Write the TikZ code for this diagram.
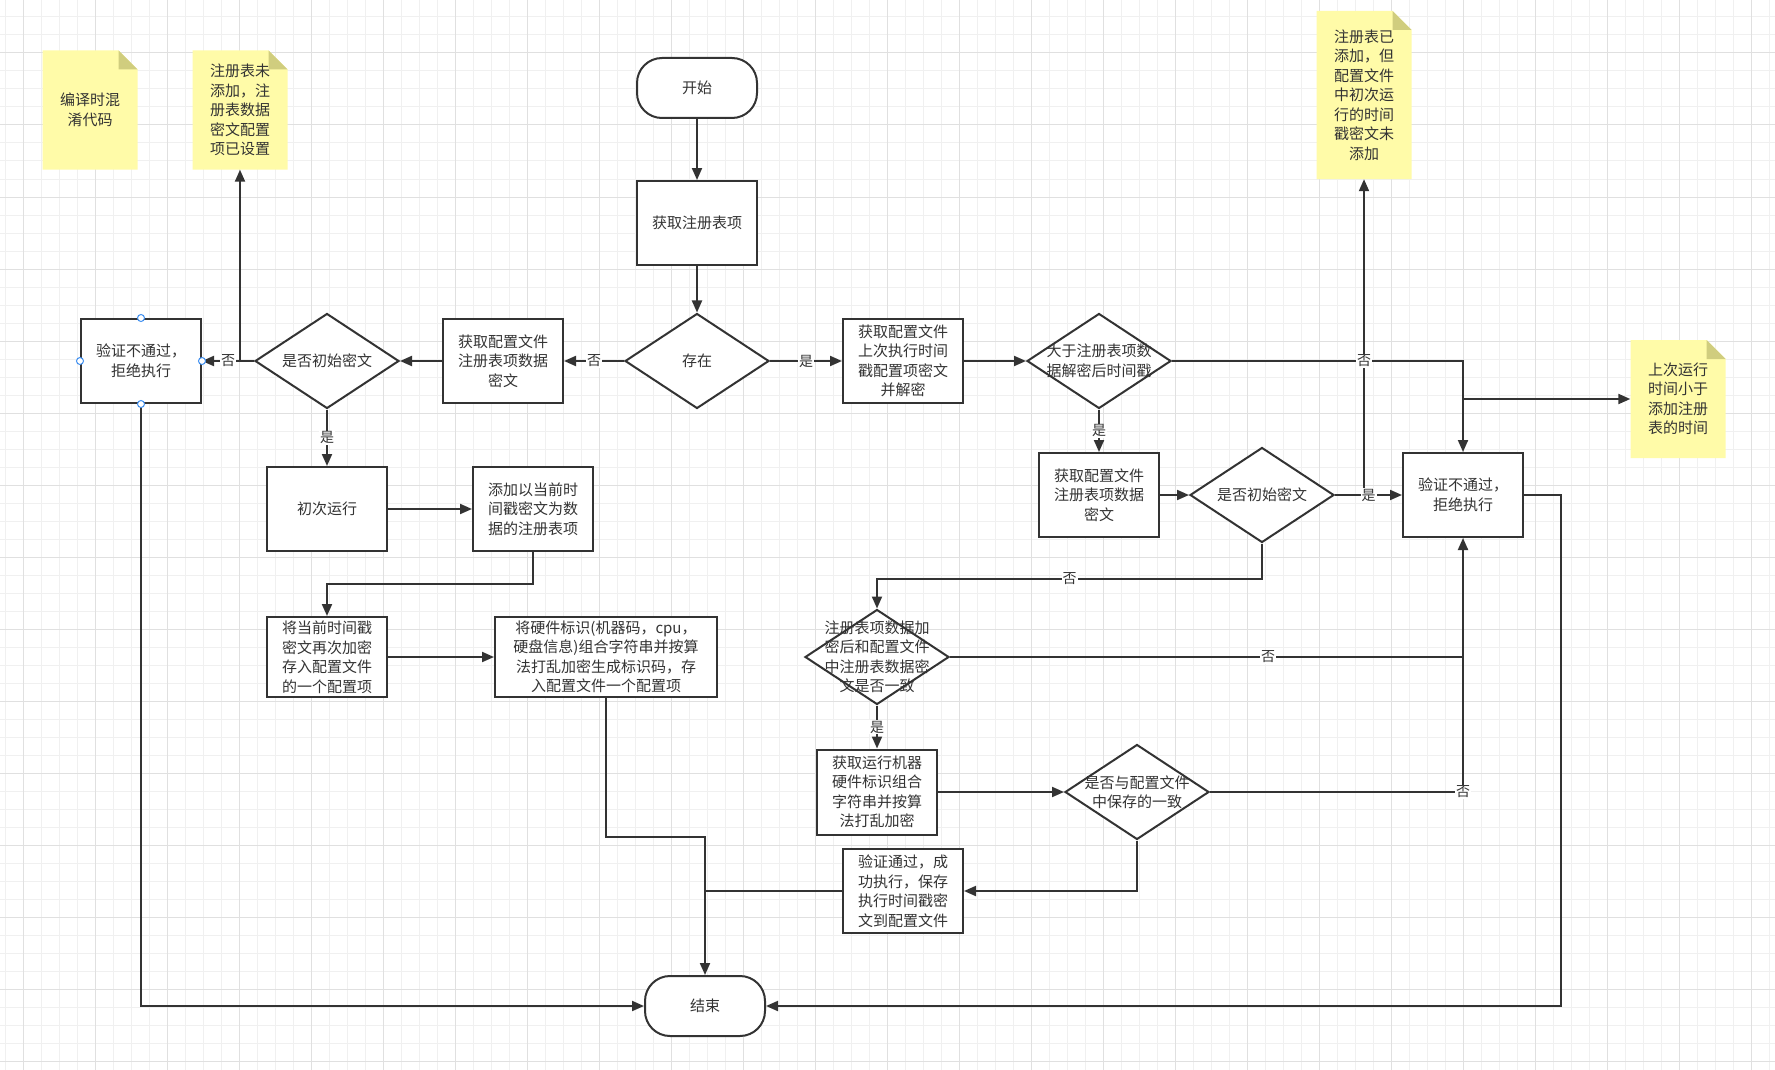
\documentclass[tikz,border=0pt]{standalone}
\usepackage{fontspec}
\setmainfont{Noto Sans CJK SC}
\usetikzlibrary{arrows.meta,positioning,shapes.geometric}
\definecolor{ink}{HTML}{333333}
\definecolor{gridlo}{HTML}{F0F0F0}
\definecolor{gridhi}{HTML}{E0E0E0}
\definecolor{notey}{HTML}{FFFBA8}
\definecolor{notefold}{HTML}{D0CD7E}
\definecolor{selblue}{HTML}{3D8EF0}
\newcommand{\txt}{\fontsize{15}{19.5}\selectfont}
\tikzset{proc/.style={rectangle,draw=ink,line width=2pt,fill=white,minimum width=120pt,
   minimum height=84pt,align=center,font=\txt,text=ink,inner sep=2pt},
  term/.style={proc,rounded corners=25pt,minimum height=60pt},
  dec/.style={diamond,draw=ink,line width=2pt,fill=white,minimum width=144pt,
   minimum height=95pt,inner sep=0pt},
  dectxt/.style={align=center,font=\txt,text=ink,inner sep=0pt},
  notetxt/.style={align=center,font=\txt,text=ink,inner sep=0pt},
  wire/.style={draw=ink,line width=2pt,-{Triangle[length=12pt,width=10pt]}},
  lab/.style={fill=white,text=ink,font=\fontsize{14}{16}\selectfont,inner sep=1pt},
  handle/.style={circle,draw=selblue,fill=white,line width=1pt,minimum size=7pt,inner sep=0pt}}
% sticky note: name, cx, cy, w, h, text
\newcommand{\sticky}[6]{%
\fill[notey] ({#2-#4/2},{#3+#5/2}) -- ({#2-#4/2},{#3-#5/2}) -- ({#2+#4/2-19},{#3-#5/2})
  -- ({#2+#4/2},{#3-#5/2+19}) -- ({#2+#4/2},{#3+#5/2}) -- cycle;
\fill[notefold] ({#2+#4/2-19},{#3-#5/2}) -- ({#2+#4/2-19},{#3-#5/2+19}) -- ({#2+#4/2},{#3-#5/2+19}) -- cycle;
\node[notetxt,minimum width=#4pt,minimum height=#5pt] (#1) at (#2,#3) {#6};
}

\begin{document}
\begin{tikzpicture}[x=1pt,y=-1pt]
\useasboundingbox (0,0) rectangle (1775,1070);
\fill[white] (0,0) rectangle (1775,1070);
% grid
\foreach \gx in {5,23,...,1775} \draw[gridlo,line width=1pt] (\gx,0) -- (\gx,1070);
\foreach \gy in {17,35,...,1070} \draw[gridlo,line width=1pt] (0,\gy) -- (1775,\gy);
\foreach \gx in {23,95,...,1775} \draw[gridhi,line width=1pt] (\gx,0) -- (\gx,1070);
\foreach \gy in {53,125,...,1070} \draw[gridhi,line width=1pt] (0,\gy) -- (1775,\gy);

% notes
\sticky{note1}{90}{110}{95}{119}{编译时混\\淆代码}
\sticky{note2}{240}{110}{95}{119}{注册表未\\添加，注\\册表数据\\密文配置\\项已设置}
\sticky{note3}{1364}{95}{95}{168}{注册表已\\添加，但\\配置文件\\中初次运\\行的时间\\戳密文未\\添加}
\sticky{note4}{1678}{399}{95}{118}{上次运行\\时间小于\\添加注册\\表的时间}

% main column
\node[term] (start) at (697,88) {开始};
\node[proc] (getreg) at (697,223) {获取注册表项};
\node[dec,label={[dectxt]center:存在}] (exist) at (697,361) {};
\node[term] (finish) at (705,1006) {结束};

% left branch
\node[proc] (lbox) at (503,361) {获取配置文件\\注册表项数据\\密文};
\node[dec,label={[dectxt]center:是否初始密文}] (ldia) at (327,361) {};
\node[proc] (fail1) at (141,361) {验证不通过，\\拒绝执行};
\node[proc] (chuci) at (327,509) {初次运行};
\node[proc] (addreg) at (533,509) {添加以当前时\\间戳密文为数\\据的注册表项};
\node[proc,minimum height=80pt] (encbox) at (327,657) {将当前时间戳\\密文再次加密\\存入配置文件\\的一个配置项};
\node[proc,minimum width=222pt,minimum height=80pt] (hwbox) at (606,657)
  {将硬件标识(机器码，cpu，\\硬盘信息)组合字符串并按算\\法打乱加密生成标识码，存\\入配置文件一个配置项};

% right branch
\node[proc] (rbox1) at (903,361) {获取配置文件\\上次执行时间\\戳配置项密文\\并解密};
\node[dec,label={[dectxt]center:大于注册表项数\\据解密后时间戳}] (gtdia) at (1099,361) {};
\node[proc] (rbox2) at (1099,495) {获取配置文件\\注册表项数据\\密文};
\node[dec,label={[dectxt]center:是否初始密文}] (rdia) at (1262,495) {};
\node[proc] (fail2) at (1463,495) {验证不通过，\\拒绝执行};
\node[dec,label={[dectxt]center:注册表项数据加\\密后和配置文件\\中注册表数据密\\文是否一致}] (cmpdia) at (877,657) {};
\node[proc,minimum height=85pt] (gethw) at (877,792) {获取运行机器\\硬件标识组合\\字符串并按算\\法打乱加密};
\node[dec,label={[dectxt]center:是否与配置文件\\中保存的一致}] (hwdia) at (1137,792) {};
\node[proc] (passbox) at (903,891) {验证通过，成\\功执行，保存\\执行时间戳密\\文到配置文件};

% connectors
\draw[wire] (start) -- (getreg);
\draw[wire] (getreg) -- (exist);
\draw[wire] (exist) -- node[lab] {否} (lbox);
\draw[wire] (lbox) -- (ldia);
\draw[wire] (note2.south |- ldia.west) -- (note2.south);
\draw[wire] (ldia) -- node[lab] {否} (fail1);
\draw[wire] (ldia) -- node[lab] {是} (chuci);
\draw[wire] (chuci) -- (addreg);
\draw[wire] (addreg.south) -- ++(0,32) -| (encbox.north);
\draw[wire] (encbox) -- (hwbox);
\draw[wire] (hwbox.south) -- ++(0,139) -| (finish.north);
\draw[wire,-] (passbox.west) -- (finish.north |- passbox.west);
\draw[wire] (fail1.south) |- (finish.west);

\draw[wire] (exist) -- node[lab] {是} (rbox1);
\draw[wire] (rbox1) -- (gtdia);
\draw[wire] (note3.south |- rdia.east) -- (note3.south);
\draw[wire] (fail2.north |- note4.west) -- (note4.west);
\draw[wire] (gtdia.east) -| node[lab,pos=.33] {否} (fail2.north);
\draw[wire] (gtdia) -- node[lab] {是} (rbox2);
\draw[wire] (rbox2) -- (rdia);
\draw[wire] (rdia) -- node[lab] {是} (fail2);
\draw[wire] (rdia.south) -- ++(0,35) -| node[lab,pos=.25] {否} (cmpdia.north);
\draw[wire,-] (cmpdia.east) -- node[lab,pos=.62] {否} (fail2.south |- cmpdia.east);
\draw[wire] (cmpdia) -- node[lab] {是} (gethw);
\draw[wire] (gethw) -- (hwdia);
\draw[wire] (hwdia.east) -| node[lab,pos=.5] {否} (fail2.south);
\draw[wire] (hwdia.south) |- (passbox.east);
\draw[wire] (fail2.east) -- ++(37,0) |- (finish.east);

% selection handles
\foreach \a in {north,south,east,west} \node[handle] (h-\a) at (fail1.\a) {};
\end{tikzpicture}
\end{document}
